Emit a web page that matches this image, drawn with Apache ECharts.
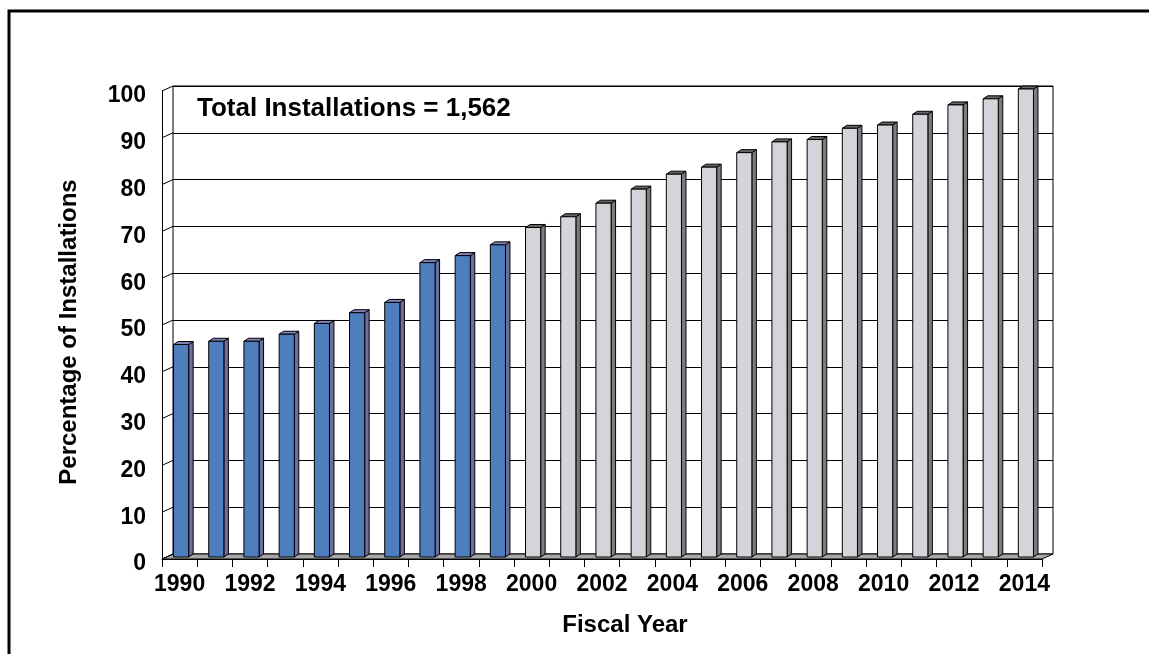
<!DOCTYPE html>
<html><head><meta charset="utf-8">
<script src="https://cdn.jsdelivr.net/npm/echarts@6/dist/echarts.min.js"></script>
<style>html,body{margin:0;padding:0;background:#fff}#c{width:1149px;height:654px}</style>
</head><body><div id="c"></div>
<script>
// ---- data ----
const years = ['1990','1991','1992','1993','1994','1995','1996','1997','1998','1999',
  '2000','2001','2002','2003','2004','2005','2006','2007','2008','2009',
  '2010','2011','2012','2013','2014'];
const actualYears = years.slice(0, 10);
const actualPct = [45.4, 46.1, 46.1, 47.6, 49.9, 52.2, 54.4, 62.9, 64.4, 66.7];
const projectedYears = years.slice(10);
const projectedPct = [70.4, 72.7, 75.6, 78.6, 81.8, 83.3, 86.4, 88.7, 89.2, 91.6, 92.3, 94.6, 96.6, 97.9, 100];
const yTicks = [0, 10, 20, 30, 40, 50, 60, 70, 80, 90, 100];
const totalLabel = 'Total Installations = 1,562';

// ---- style constants ----
const FONT = "'Liberation Sans', Arial, sans-serif";
const WALL_DX = 11, WALL_DY = -5;   // depth of back wall relative to front plane
const BAR_DX = 4.5, BAR_DY = -3;    // bar depth
const BAR_SHIFT_X = 1.5, BAR_SHIFT_Y = -2;
const BLUE = {front: '#4f7ebf', side: '#6e6e9e', top: '#8181b9'};
const GRAY = {front: '#d4d4da', side: '#7c7c7c', top: '#666666'};

function barRenderer(col) {
  return function (params, api) {
    const cat = api.value(0);
    const v = api.value(1);
    const top = api.coord([cat, v]);
    const base = api.coord([cat, 0]);
    const band = api.size([1, 0])[0];
    const w = band * 0.43;
    const x0 = top[0] - w / 2 + BAR_SHIFT_X, x1 = x0 + w;
    const yt = top[1] + BAR_SHIFT_Y, yb = base[1] + BAR_SHIFT_Y;
    const st = (f) => ({fill: f, stroke: '#000', lineWidth: 1});
    return {type: 'group', children: [
      {type: 'polygon', shape: {points: [[x1, yt], [x1 + BAR_DX, yt + BAR_DY], [x1 + BAR_DX, yb + BAR_DY], [x1, yb]]}, style: st(col.side)},
      {type: 'polygon', shape: {points: [[x0, yt], [x0 + BAR_DX, yt + BAR_DY], [x1 + BAR_DX, yt + BAR_DY], [x1, yt]]}, style: st(col.top)},
      {type: 'rect', shape: {x: x0, y: yt, width: w, height: yb - yt}, style: st(col.front)}
    ]};
  };
}

const chart = echarts.init(document.getElementById('c'), null, {renderer: 'canvas'});
const axisTxt = {fontFamily: FONT, fontWeight: 'bold', fontSize: 23, color: '#000'};

chart.setOption({
  animation: false,
  backgroundColor: '#fff',
  graphic: [
    {type: 'rect', shape: {x: 9, y: 11, width: 1400, height: 900}, style: {fill: 'none', stroke: '#000', lineWidth: 3}, z: 0},
    {type: 'text', x: 197, y: 109, style: {text: totalLabel, fontFamily: FONT, fontWeight: 'bold', fontSize: 26, fill: '#000', textVerticalAlign: 'middle'}, z: 10}
  ],
  grid: [
    {left: 162 + WALL_DX, right: 107 - WALL_DX, top: 91 + WALL_DY, height: 468, show: true, borderColor: '#000', borderWidth: 1, backgroundColor: 'transparent'},
    {left: 162, right: 107, top: 91, height: 468}
  ],
  xAxis: [
    {type: 'category', gridIndex: 0, data: years, show: false},
    {type: 'category', gridIndex: 1, data: years, boundaryGap: true,
     axisLine: {show: true, lineStyle: {color: '#000', width: 1}},
     axisTick: {show: true, interval: 0, length: 8, lineStyle: {color: '#000'}},
     axisLabel: Object.assign({interval: 1, margin: 14}, axisTxt),
     splitLine: {show: false},
     name: 'Fiscal Year', nameLocation: 'middle', nameGap: 54,
     nameTextStyle: {fontFamily: FONT, fontWeight: 'bold', fontSize: 24, color: '#000', padding: [0, 0, 0, 46]}}
  ],
  yAxis: [
    {type: 'value', gridIndex: 0, min: 0, max: 100, interval: 10,
     axisLine: {show: false}, axisTick: {show: false}, axisLabel: {show: false},
     splitLine: {show: true, lineStyle: {color: '#000', width: 1}}},
    {type: 'value', gridIndex: 1, min: 0, max: 100, interval: 10,
     axisLine: {show: true, lineStyle: {color: '#000', width: 1}},
     axisTick: {show: false},
     axisLabel: Object.assign({margin: 16, verticalAlign: 'top', lineHeight: 10}, axisTxt),
     splitLine: {show: false},
     name: 'Percentage of Installations', nameLocation: 'middle', nameRotate: 90, nameGap: 81,
     nameTextStyle: {fontFamily: FONT, fontWeight: 'bold', fontSize: 24, color: '#000', padding: [0, 14, 0, 0]}}
  ],
  series: [
    { // floor
      type: 'custom', name: 'floor', xAxisIndex: 1, yAxisIndex: 1, z: 1, silent: true,
      data: [[0, 0]],
      renderItem: function (params, api) {
        const cs = params.coordSys;
        const y0 = api.coord([0, 0])[1];
        return {type: 'polygon', shape: {points: [[cs.x, y0], [cs.x + cs.width, y0], [cs.x + cs.width + WALL_DX, y0 + WALL_DY], [cs.x + WALL_DX, y0 + WALL_DY]]},
          style: {fill: '#a8a8a8', stroke: '#000', lineWidth: 1}};
      }
    },
    { // side wall grid lines
      type: 'custom', name: 'sidewall', xAxisIndex: 1, yAxisIndex: 1, z: 1, silent: true,
      data: yTicks.map(t => [0, t]),
      renderItem: function (params, api) {
        const cs = params.coordSys;
        const y = api.coord([0, api.value(1)])[1];
        return {type: 'line', shape: {x1: cs.x, y1: y, x2: cs.x + WALL_DX, y2: y + WALL_DY}, style: {stroke: '#000', lineWidth: 1}};
      }
    },
    {type: 'custom', name: 'Actual', xAxisIndex: 1, yAxisIndex: 1, z: 3,
     data: actualYears.map((y, i) => [years.indexOf(y), actualPct[i]]), renderItem: barRenderer(BLUE)},
    {type: 'custom', name: 'Projected', xAxisIndex: 1, yAxisIndex: 1, z: 3,
     data: projectedYears.map((y, i) => [years.indexOf(y), projectedPct[i]]), renderItem: barRenderer(GRAY)}
  ]
});
</script>
</body></html>
